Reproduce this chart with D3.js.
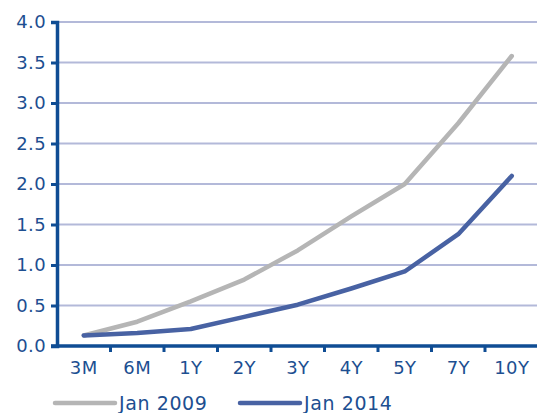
<!DOCTYPE html>
<html>
<head>
<meta charset="utf-8">
<script src="https://cdn.jsdelivr.net/npm/d3@7"></script>
<style>
  body { margin: 0; background: #fff; }
  .chart text { font-family: "DejaVu Sans", sans-serif; fill: #1d4f91; }
</style>
</head>
<body>
<div class="chart"></div>
<script>
const maturities = ['3M', '6M', '1Y', '2Y', '3Y', '4Y', '5Y', '7Y', '10Y'];
const jan2009 = [0.13, 0.30, 0.55, 0.82, 1.18, 1.60, 2.00, 2.75, 3.58];
const jan2014 = [0.13, 0.16, 0.21, 0.36, 0.51, 0.71, 0.92, 1.38, 2.10];
const yTicks = [0, 0.5, 1, 1.5, 2, 2.5, 3, 3.5, 4];
const seriesNames = ['Jan 2009', 'Jan 2014'];

const W = 537, H = 413;
const margin = {top: 22, left: 57};
const plotH = 346 - margin.top;
const plotW = 481.5;

const svg = d3.select('.chart')
    .append('svg')
    .attr('width', W)
    .attr('height', H);

const xScale = d3.scaleBand()
    .domain(maturities)
    .range([margin.left, margin.left + plotW]);

const yScale = d3.scaleLinear()
    .domain([0, 4])
    .range([margin.top + plotH, margin.top]);

// gridlines
svg.append('g')
    .selectAll('line')
    .data(yTicks.slice(1))
    .enter()
    .append('line')
    .attr('x1', margin.left)
    .attr('x2', W)
    .attr('y1', d => yScale(d))
    .attr('y2', d => yScale(d))
    .attr('stroke', '#b3b9d9')
    .attr('stroke-width', 2);

const color = d3.scaleOrdinal().domain(seriesNames).range(['#b5b5b5', '#4862a3']);
const series = [
    {name: seriesNames[0], values: jan2009},
    {name: seriesNames[1], values: jan2014}
];

const line = d3.line()
    .x((d, i) => xScale(maturities[i]) + xScale.bandwidth() / 2)
    .y(d => yScale(d));

svg.append('g')
    .selectAll('path')
    .data(series)
    .enter()
    .append('path')
    .attr('d', d => line(d.values))
    .attr('fill', 'none')
    .attr('stroke', d => color(d.name))
    .attr('stroke-width', 4.5)
    .attr('stroke-linecap', 'round')
    .attr('stroke-linejoin', 'round');

// axes
const yAxis = d3.axisLeft(yScale)
    .tickValues(yTicks)
    .tickFormat(d3.format('.1f'))
    .tickSize(6)
    .tickPadding(5);

const gy = svg.append('g')
    .attr('transform', 'translate(' + margin.left + ',0)')
    .call(yAxis);

const xAxis = d3.axisBottom(xScale)
    .tickSize(0)
    .tickPadding(15);

const gx = svg.append('g')
    .attr('transform', 'translate(0,' + (margin.top + plotH) + ')')
    .call(xAxis);

// x tick marks sit on the band edges
gx.selectAll('.edge')
    .data(maturities)
    .enter()
    .append('line')
    .attr('class', 'edge')
    .attr('x1', d => xScale(d) + xScale.step())
    .attr('x2', d => xScale(d) + xScale.step())
    .attr('y1', 0)
    .attr('y2', 6)
    .attr('stroke', '#0f4d94')
    .attr('stroke-width', 3);

[gx, gy].forEach(g => {
    g.select('.domain').attr('stroke', '#0f4d94').attr('stroke-width', 3.5);
    g.selectAll('.tick line').attr('stroke', '#0f4d94').attr('stroke-width', 3);
    g.selectAll('.tick text')
        .style('font-family', '"DejaVu Sans", sans-serif')
        .style('font-size', '18px')
        .style('letter-spacing', '0.4px')
        .attr('fill', '#1d4f91');
});
gx.select('.domain').attr('d', 'M' + (margin.left - 6) + ',0H' + (W + 2));

// legend
const legend = svg.append('g');
const legendX = [55, 240];
legend.selectAll('line')
    .data(seriesNames)
    .enter()
    .append('line')
    .attr('x1', (d, i) => legendX[i])
    .attr('x2', (d, i) => legendX[i] + 60)
    .attr('y1', 403)
    .attr('y2', 403)
    .attr('stroke', d => color(d))
    .attr('stroke-width', 4.5)
    .attr('stroke-linecap', 'round');

legend.selectAll('text')
    .data(seriesNames)
    .enter()
    .append('text')
    .attr('x', (d, i) => legendX[i] + 64)
    .attr('y', 403)
    .attr('dy', '0.36em')
    .style('font-size', '19px')
    .style('letter-spacing', '0.6px')
    .text(d => d);
</script>
</body>
</html>
